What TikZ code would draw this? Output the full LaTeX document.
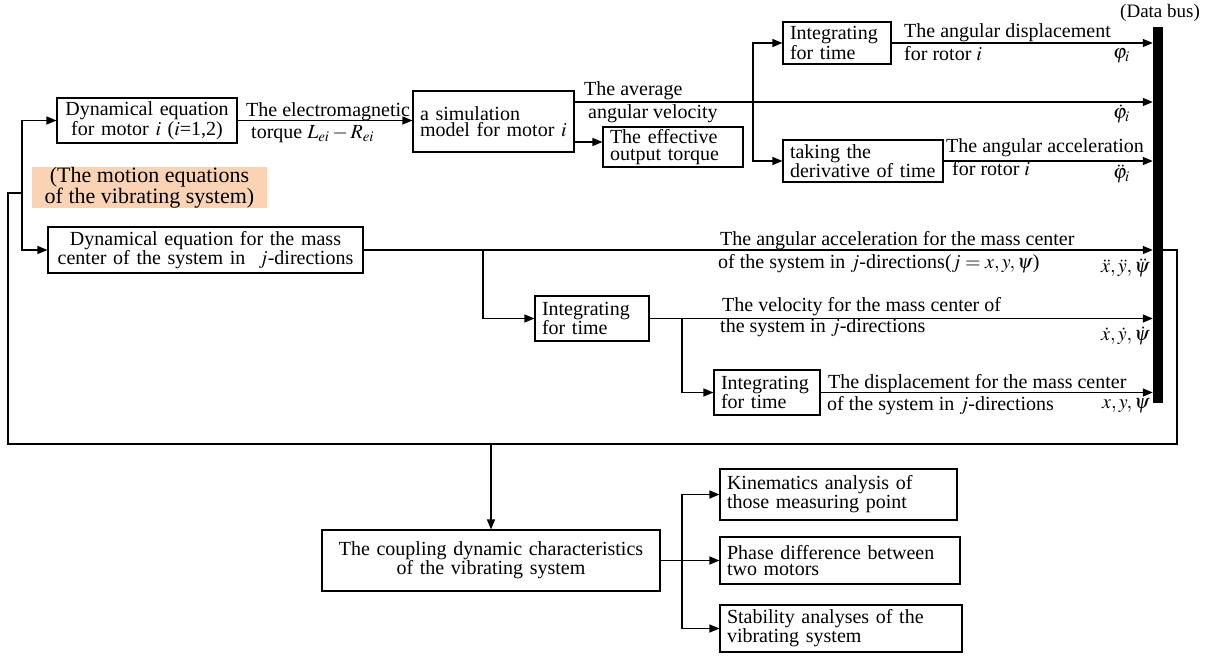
\documentclass[tikz,border=0pt]{standalone}
\usepackage{mathptmx}
\usepackage{fontspec}
\setmainfont{Liberation Serif}
\usetikzlibrary{arrows.meta}
\definecolor{peach}{RGB}{250,211,181}
\newcommand{\fz}{\fontsize{20}{16.5}\selectfont}

\begin{document}
\begin{tikzpicture}[x=1pt,y=-1pt,every node/.style={font=\fz},
  box/.style={draw, line width=1.1pt, inner xsep=7pt, inner ysep=0pt, align=left},
  cbox/.style={box, align=center},
  lbl/.style={inner sep=0pt, anchor=base west},
  rlbl/.style={inner sep=0pt, anchor=base east},
  link/.style={line width=1.3pt},
  arr/.style={link, -{Triangle[length=10pt,width=8pt]}}]
\useasboundingbox (0,0) rectangle (1210,656);

% blocks
\node[cbox, text width=166pt, minimum height=45pt] (motor) at (147,120.5) {Dynamical equation\\for motor $i$ ($i$=1,2)};
\node[cbox, text width=301pt, minimum height=46pt] (mass) at (205.5,250) {Dynamical equation for the mass\\center of the system in~~$j$-directions};
\node[box, text width=147pt, minimum height=61pt] (sim) at (493.5,121.5) {a simulation\\model for motor $i$};
\node[box, text width=126pt, minimum height=40pt] (eff) at (673,147) {The effective\\output torque};
\node[box, text width=94pt, minimum height=42pt] (intA) at (837,43) {Integrating\\for time};
\node[box, text width=146pt, minimum height=42pt] (deriv) at (863,161) {taking the\\derivative of time};
\node[box, text width=100pt, minimum height=45pt] (intB) at (592,318.5) {Integrating\\for time};
\node[box, text width=92pt, minimum height=45pt] (intC) at (767,392.5) {Integrating\\for time};
\node[cbox, text width=324pt, minimum height=61pt] (coup) at (491,560.5) {The coupling dynamic characteristics\\of the vibrating system};
\node[box, text width=223pt, minimum height=51pt] (kin) at (838.5,494.5) {Kinematics analysis of\\those measuring point};
\node[box, text width=226pt, minimum height=47pt] (pha) at (840,560.5) {Phase difference between\\two motors};
\node[box, text width=228pt, minimum height=47pt] (sta) at (841,628.5) {Stability analyses of the\\vibrating system};
\node[fill=peach, align=center, inner sep=0pt, minimum width=235pt, minimum height=41pt,
  font=\fontsize{22}{19}\selectfont] (motion) at (149.5,187.5) {(The motion equations\\of the vibrating system)};
\node[fill, inner sep=0pt, minimum width=10pt, minimum height=376pt] (bus) at (1158,215) {};
\node[lbl, font=\fontsize{19}{19}\selectfont] (buslbl) at (1120,17) {(Data bus)};

% branch points
\coordinate (j1) at (22,193);
\coordinate (b1) at (753,102);
\coordinate (t1) at (573,142);
\coordinate (b2) at (483,250);
\coordinate (b3) at (682,318.5);
\coordinate (b4) at (682,560.5);
\coordinate (c1) at (491,444);

% connectors
\draw[arr] (j1) |- (motor.west);
\draw[arr] (j1) |- (mass.west);
\draw[arr] (motor.east) -- (motor.east -| sim.west);
\draw[arr] (sim.east |- b1) -- (bus.west |- b1);
\draw[arr] (t1) -- (t1 -| eff.west);
\draw[arr] (b1) |- (intA.west);
\draw[arr] (b1) |- (deriv.west);
\draw[arr] (intA.east) -- (intA.east -| bus.west);
\draw[arr] (deriv.east) -- (deriv.east -| bus.west);
\draw[arr] (mass.east) -- (mass.east -| bus.west);
\draw[arr] (b2) |- (intB.west);
\draw[arr] (intB.east) -- (intB.east -| bus.west);
\draw[arr] (b3) |- (intC.west);
\draw[arr] (intC.east) -- (intC.east -| bus.west);
\draw[link] (bus.east |- mass.east) -| (1177,444) -| (8,193) -- (j1);
\draw[arr] (c1) -- (coup.north);
\draw[link] (coup.east) -- (b4);
\draw[arr] (b4) |- (kin.west);
\draw[arr] (b4) |- (pha.west);
\draw[arr] (b4) |- (sta.west);

% labels
\node[lbl] (em1) at (246,116) {The electromagnetic};
\node[lbl] (em2) at (251,138) {torque $L_{ei}-R_{ei}$};
\node[lbl] (av1) at (584,95) {The average};
\node[lbl] (av2) at (588,118) {angular velocity};
\node[lbl] (ad1) at (904,37) {The angular displacement};
\node[lbl] (ad2) at (904,60) {for rotor $i$};
\node[lbl] (aa1) at (946,152) {The angular acceleration};
\node[lbl] (aa2) at (952,175) {for rotor $i$};
\node[rlbl] (phi0) at (1130,58) {$\varphi_i$};
\node[rlbl] (phi1) at (1130,118) {$\dot\varphi_i$};
\node[rlbl] (phi2) at (1130,178) {$\ddot\varphi_i$};
\node[lbl] (ma1) at (720,245) {The angular acceleration for the mass center};
\node[lbl] (ma2) at (718,268) {of the system in $j$-directions($j=x,y,\psi$)};
\node[rlbl] (acc) at (1150,272) {$\ddot x,\ddot y,\ddot\psi$};
\node[lbl] (mv1) at (722,311) {The velocity for the mass center of};
\node[lbl] (mv2) at (720,332) {the system in $j$-directions};
\node[rlbl] (vel) at (1150,340) {$\dot x,\dot y,\dot\psi$};
\node[lbl] (md1) at (828,388) {The displacement for the mass center};
\node[lbl] (md2) at (827,410) {of the system in $j$-directions};
\node[rlbl] (dis) at (1150,408) {$x,y,\psi$};
\end{tikzpicture}
\end{document}
